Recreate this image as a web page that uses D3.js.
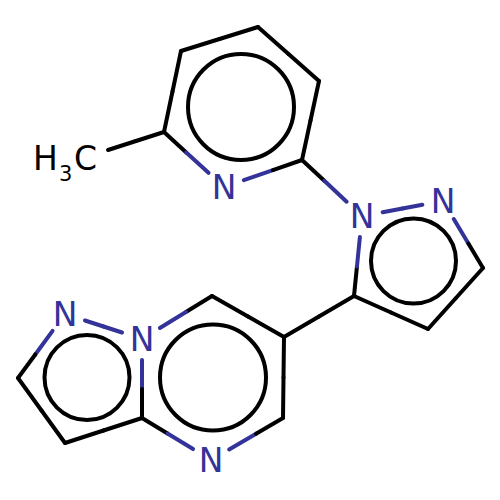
<!DOCTYPE html>
<html>
<head>
<meta charset="utf-8">
<script src="https://cdn.jsdelivr.net/npm/d3@7/dist/d3.min.js"></script>
<style>html,body{margin:0;padding:0;background:#fff}svg{display:block}</style>
</head>
<body>
<svg id="c" width="500" height="500"></svg>
<script>
const atomIds = ["c1","c2","c3","n1","c4","c5","me","n2","n3","c6","c7","c8","c9","c10","n4","c11","n5","c12","n6","c13","c14"];
const atomX = [258,181,164,224,302,319,108,362,443,483,428,354,284,212,142,142,211,283,65,18,65];
const atomY = [27,51,132,187,160,81,150,216,201,268,329,296,337,296,339,418,460,418,314,378,443];
const atomElement = ["C","C","C","N","C","C","Me","N","N","C","C","C","C","C","N","C","N","C","N","C","C"];
const bondFrom = ["c1","c2","c3","n1","c4","c5","c3","c4","n2","n3","c6","c7","c8","c8","c9","c10","n4","c11","n5","c12","n4","n6","c13","c14"];
const bondTo   = ["c2","c3","n1","c4","c5","c1","me","n2","n3","c6","c7","c8","n2","c9","c10","n4","c11","n5","c12","c9","n6","c13","c14","c11"];
const ringCx = [241,413.5,213,87];
const ringCy = [107,261,377.5,377.5];
const ringR = [53,42.5,53,42.5];

const W = 500, H = 500, trim = 21;
const x = d3.scaleLinear().domain([0,500]).range([0,W]);
const y = d3.scaleLinear().domain([0,500]).range([0,H]);
const INK = "#000000", NCOL = "#333399", SW = 4;
const svg = d3.select("#c");

const atoms = new Map(atomIds.map((id,i)=>[id,{id,px:x(atomX[i]),py:y(atomY[i]),el:atomElement[i]}]));
const segs = [];
bondFrom.forEach((f,i)=>{
  const a = atoms.get(f), b = atoms.get(bondTo[i]);
  const L = Math.hypot(b.px-a.px,b.py-a.py), ux=(b.px-a.px)/L, uy=(b.py-a.py)/L;
  const ta = a.el==="N"?trim:0, tb = b.el==="N"?trim:0;
  const p0=[a.px+ux*ta,a.py+uy*ta], p1=[b.px-ux*tb,b.py-uy*tb];
  const m=[(p0[0]+p1[0])/2,(p0[1]+p1[1])/2];
  segs.push({p:p0,q:m,c:a.el==="N"?NCOL:INK});
  segs.push({p:m,q:p1,c:b.el==="N"?NCOL:INK});
});
svg.append("g").selectAll("line").data(segs).join("line")
  .attr("x1",d=>d.p[0]).attr("y1",d=>d.p[1]).attr("x2",d=>d.q[0]).attr("y2",d=>d.q[1])
  .attr("stroke",d=>d.c).attr("stroke-width",SW).attr("stroke-linecap","round");

svg.append("g").selectAll("circle").data(ringCx).join("circle")
  .attr("cx",d=>x(d)).attr("cy",(d,i)=>y(ringCy[i])).attr("r",(d,i)=>ringR[i])
  .attr("fill","none").attr("stroke",INK).attr("stroke-width",SW);

const font = "'DejaVu Sans'";
svg.append("g").selectAll("text").data([...atoms.values()].filter(a=>a.el==="N")).join("text")
  .attr("x",d=>d.px).attr("y",d=>d.py+11.5).attr("text-anchor","middle")
  .attr("font-family",font).attr("font-size",33).attr("fill",NCOL).text("N");

const me = atoms.get("me");
const lab = svg.append("g").attr("font-family",font).attr("fill",INK);
lab.append("text").attr("x",me.px-75).attr("y",me.py+20).attr("font-size",33).text("H");
lab.append("text").attr("x",me.px-49).attr("y",me.py+31).attr("font-size",21).text("3");
lab.append("text").attr("x",me.px-34).attr("y",me.py+20).attr("font-size",33).text("C");
</script>
</body>
</html>
